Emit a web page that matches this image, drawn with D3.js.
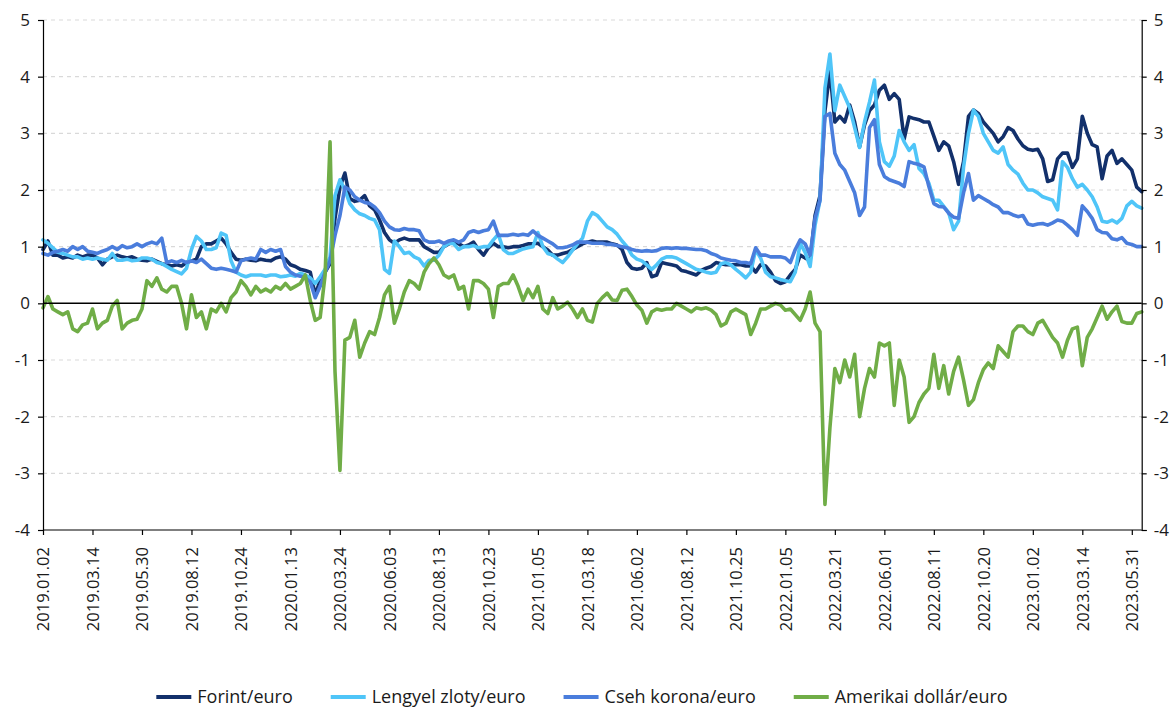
<!DOCTYPE html>
<html>
<head>
<meta charset="utf-8">
<script src="https://cdn.jsdelivr.net/npm/d3@7"></script>
<style>
  html, body { margin: 0; padding: 0; background: #ffffff; }
  svg { display: block; }
  text { font-family: "Open Sans", "Noto Sans", sans-serif; fill: #1a1a1a; }
</style>
</head>
<body>
<svg id="chart" width="1176" height="709"></svg>
<script>
// ---- DATA (one value every 5 trading days, 2019.01.02 - 2023.06) ----
const tickLabels = ["2019.01.02","2019.03.14","2019.05.30","2019.08.12","2019.10.24","2020.01.13","2020.03.24","2020.06.03","2020.08.13","2020.10.23","2021.01.05","2021.03.18","2021.06.02","2021.08.12","2021.10.25","2022.01.05","2022.03.21","2022.06.01","2022.08.11","2022.10.20","2023.01.02","2023.03.14","2023.05.31"];
const samplesPerLabel = 10;
const yTicks = [-4,-3,-2,-1,0,1,2,3,4,5];
const seriesNames = ["Forint/euro","Lengyel zloty/euro","Cseh korona/euro","Amerikai dollár/euro"];

const forint = [
 0.95,1.1,0.85,0.85,0.8,0.82,0.8,0.85,0.82,0.85,
 0.85,0.8,0.68,0.78,0.82,0.85,0.82,0.8,0.82,0.78,
 0.76,0.75,0.78,0.74,0.7,0.68,0.66,0.68,0.66,0.72,
 0.75,0.78,1.0,1.05,1.05,1.1,1.15,1.05,0.9,0.78,
 0.76,0.78,0.76,0.75,0.78,0.76,0.75,0.8,0.82,0.78,
 0.68,0.65,0.6,0.58,0.55,0.15,0.4,0.55,0.7,1.5,
 2.05,2.3,1.85,1.8,1.82,1.9,1.72,1.65,1.47,1.25,
 1.12,1.06,1.12,1.15,1.12,1.12,1.12,1.0,0.95,0.9,
 0.9,1.0,1.05,1.08,1.05,1.0,1.03,1.08,0.95,0.85,
 0.98,1.06,1.0,1.0,0.98,1.0,1.0,1.02,1.05,1.05,
 1.06,1.0,0.94,0.85,0.85,0.88,0.9,0.95,1.0,1.05,
 1.08,1.1,1.08,1.08,1.08,1.05,1.03,0.95,0.72,0.62,
 0.6,0.62,0.72,0.47,0.5,0.72,0.7,0.68,0.66,0.58,
 0.56,0.53,0.5,0.58,0.62,0.65,0.72,0.7,0.68,0.68,
 0.68,0.68,0.66,0.66,0.55,0.68,0.66,0.55,0.4,0.35,
 0.38,0.5,0.6,0.85,0.8,0.76,1.55,1.9,3.4,4.1,
 3.2,3.3,3.2,3.5,3.2,2.76,3.15,3.4,3.5,3.76,
 3.85,3.6,3.7,3.6,2.9,3.29,3.26,3.24,3.2,3.2,
 2.95,2.7,2.85,2.78,2.5,2.1,2.5,3.3,3.41,3.35,
 3.2,3.1,3.0,2.85,2.94,3.1,3.05,2.9,2.78,2.72,
 2.7,2.72,2.55,2.15,2.18,2.55,2.65,2.65,2.4,2.55,
 3.3,3.0,2.8,2.76,2.2,2.6,2.7,2.47,2.55,2.45,
 2.35,2.05,1.97
];
const zloty = [
 1.12,1.06,0.98,0.9,0.88,0.85,0.82,0.82,0.78,0.8,
 0.78,0.8,0.78,0.76,0.88,0.76,0.76,0.78,0.75,0.76,
 0.8,0.8,0.78,0.72,0.7,0.65,0.6,0.56,0.52,0.62,
 0.95,1.18,1.1,0.95,0.95,0.98,1.24,1.2,0.75,0.55,
 0.5,0.47,0.5,0.5,0.5,0.48,0.5,0.5,0.47,0.48,
 0.5,0.48,0.53,0.5,0.45,0.35,0.47,0.6,0.82,1.9,
 2.18,2.0,1.76,1.65,1.58,1.55,1.5,1.47,1.3,0.6,
 0.53,1.1,1.0,0.88,0.9,0.82,0.78,0.66,0.76,0.76,
 0.85,1.0,1.06,1.05,0.95,1.0,1.0,1.02,0.98,1.0,
 1.0,1.12,1.22,0.95,0.88,0.88,0.92,0.96,0.98,1.0,
 1.25,1.0,0.88,0.85,0.78,0.72,0.82,0.94,1.05,1.15,
 1.45,1.6,1.55,1.45,1.35,1.3,1.22,1.1,1.0,0.85,
 0.78,0.75,0.68,0.6,0.68,0.78,0.82,0.82,0.8,0.75,
 0.7,0.65,0.6,0.58,0.55,0.53,0.55,0.7,0.72,0.68,
 0.6,0.53,0.45,0.55,0.95,0.8,0.55,0.47,0.45,0.42,
 0.4,0.38,0.55,1.06,0.9,0.65,1.38,1.82,3.8,4.4,
 3.4,3.85,3.65,3.45,3.1,2.75,3.2,3.55,3.94,2.85,
 2.5,2.42,2.6,3.05,2.85,2.7,2.8,2.38,2.29,2.12,
 1.82,1.82,1.71,1.6,1.3,1.45,2.4,3.0,3.41,3.3,
 3.0,2.85,2.7,2.65,2.76,2.45,2.35,2.28,2.12,2.0,
 2.0,1.95,1.88,1.85,1.82,1.65,2.5,2.4,2.2,2.05,
 2.1,2.0,1.88,1.7,1.45,1.43,1.47,1.42,1.5,1.72,
 1.8,1.72,1.68
];
const korona = [
 0.88,0.85,0.9,0.92,0.95,0.92,1.0,0.95,1.0,0.92,
 0.9,0.88,0.92,0.95,1.0,0.95,1.02,0.98,1.0,1.05,
 1.0,1.05,1.08,1.05,1.15,0.72,0.75,0.72,0.76,0.72,
 0.75,0.72,0.78,0.7,0.62,0.6,0.62,0.6,0.58,0.55,
 0.75,0.78,0.8,0.78,0.95,0.9,0.95,0.92,0.95,0.65,
 0.55,0.5,0.48,0.45,0.38,0.1,0.3,0.55,0.75,1.2,
 1.55,2.05,2.0,1.88,1.82,1.78,1.76,1.7,1.6,1.45,
 1.35,1.3,1.29,1.32,1.3,1.3,1.28,1.12,1.08,1.08,
 1.1,1.06,1.1,1.12,1.08,1.12,1.25,1.28,1.25,1.28,
 1.3,1.45,1.2,1.2,1.2,1.22,1.2,1.22,1.2,1.28,
 1.2,1.15,1.1,1.05,0.98,0.98,1.0,1.03,1.08,1.08,
 1.08,1.06,1.06,1.06,1.04,1.04,1.02,1.0,0.98,0.95,
 0.93,0.92,0.93,0.92,0.93,0.97,0.98,0.97,0.98,0.97,
 0.97,0.96,0.95,0.95,0.93,0.88,0.85,0.8,0.78,0.76,
 0.75,0.72,0.72,0.7,0.98,0.85,0.85,0.82,0.82,0.82,
 0.8,0.72,0.95,1.12,1.05,0.85,1.5,1.82,3.3,3.35,
 2.65,2.45,2.35,2.15,1.95,1.55,1.7,3.1,3.24,2.45,
 2.24,2.18,2.15,2.12,2.06,2.5,2.47,2.45,2.41,2.06,
 1.76,1.71,1.7,1.59,1.52,1.5,1.95,2.29,1.82,1.9,
 1.85,1.8,1.74,1.7,1.6,1.6,1.56,1.53,1.55,1.4,
 1.38,1.4,1.41,1.38,1.42,1.47,1.45,1.38,1.3,1.2,
 1.72,1.62,1.5,1.3,1.25,1.24,1.14,1.12,1.16,1.06,
 1.04,1.0,1.0
];
const dollar = [
 -0.08,0.12,-0.1,-0.15,-0.2,-0.15,-0.45,-0.5,-0.38,-0.35,
 -0.1,-0.45,-0.35,-0.3,-0.05,0.05,-0.45,-0.35,-0.3,-0.28,
 -0.1,0.4,0.3,0.45,0.25,0.2,0.3,0.3,0.0,-0.45,
 0.15,-0.25,-0.15,-0.45,-0.1,-0.15,0.0,-0.15,0.1,0.2,
 0.4,0.3,0.15,0.3,0.2,0.25,0.2,0.3,0.25,0.35,
 0.25,0.3,0.35,0.5,0.05,-0.3,-0.25,0.5,2.85,-1.2,
 -2.95,-0.65,-0.6,-0.3,-0.95,-0.7,-0.5,-0.55,-0.25,0.15,
 0.3,-0.35,-0.1,0.2,0.4,0.35,0.25,0.55,0.7,0.8,
 0.68,0.5,0.45,0.5,0.25,0.3,-0.1,0.4,0.4,0.35,
 0.25,-0.25,0.3,0.35,0.35,0.5,0.3,0.05,0.25,0.1,
 0.3,-0.1,-0.18,0.1,-0.1,-0.05,0.02,-0.1,-0.25,-0.1,
 -0.3,-0.33,0.0,0.1,0.18,0.06,0.05,0.23,0.25,0.12,
 -0.03,-0.12,-0.35,-0.15,-0.1,-0.12,-0.1,-0.1,0.0,-0.05,
 -0.1,-0.15,-0.08,-0.1,-0.08,-0.12,-0.2,-0.4,-0.35,-0.15,
 -0.1,-0.15,-0.2,-0.55,-0.35,-0.1,-0.1,-0.05,0.0,-0.03,
 -0.12,-0.1,-0.2,-0.3,-0.1,0.2,-0.35,-0.5,-3.55,-2.2,
 -1.15,-1.4,-1.0,-1.3,-0.9,-2.0,-1.5,-1.15,-1.3,-0.7,
 -0.75,-0.7,-1.8,-1.0,-1.3,-2.1,-2.0,-1.75,-1.6,-1.5,
 -0.9,-1.5,-1.1,-1.6,-1.2,-0.95,-1.35,-1.8,-1.7,-1.4,
 -1.17,-1.05,-1.15,-0.75,-0.85,-0.95,-0.5,-0.4,-0.4,-0.5,
 -0.55,-0.35,-0.3,-0.45,-0.6,-0.7,-0.95,-0.65,-0.45,-0.42,
 -1.1,-0.6,-0.45,-0.25,-0.05,-0.28,-0.15,-0.05,-0.32,-0.35,
 -0.35,-0.18,-0.15
];
const seriesData = [forint, zloty, korona, dollar];
const colors = ["#12306b", "#4fc5f8", "#4a7ddc", "#70ad47"];

// ---- LAYOUT ----
const W = 1176, H = 709;
const plot = { left: 43, right: 1141.7, top: 20, bottom: 530 };
const svg = d3.select("#chart");

const x = d3.scaleLinear().domain([0, forint.length - 1]).range([plot.left, plot.right]);
const y = d3.scaleLinear().domain([-4, 5]).range([plot.bottom, plot.top]);

// gridlines
svg.append("g").selectAll("line")
  .data(yTicks.filter(v => v !== 0 && v !== -4))
  .join("line")
  .attr("x1", plot.left).attr("x2", plot.right)
  .attr("y1", d => y(d)).attr("y2", d => y(d))
  .attr("stroke", "#d9d9d9").attr("stroke-width", 1.2)
  .attr("stroke-dasharray", "4,4");

// series lines
const line = d3.line().x((d, i) => x(i)).y(d => y(d)).curve(d3.curveLinear);
svg.append("g").selectAll("path")
  .data(seriesData)
  .join("path")
  .attr("d", d => line(d))
  .attr("fill", "none")
  .attr("stroke", (d, i) => colors[i])
  .attr("stroke-width", 3.6)
  .attr("stroke-linejoin", "round")
  .attr("stroke-linecap", "round");

// zero line
svg.append("line")
  .attr("x1", plot.left).attr("x2", plot.right)
  .attr("y1", y(0)).attr("y2", y(0))
  .attr("stroke", "#000").attr("stroke-width", 1.5);

// left axis
const yAxisL = d3.axisLeft(y).tickValues(yTicks).tickSize(5).tickPadding(8).tickFormat(d3.format("d"));
const gL = svg.append("g").attr("transform", `translate(${plot.left},0)`).call(yAxisL);
// right axis
const yAxisR = d3.axisRight(y).tickValues(yTicks).tickSize(5).tickPadding(7).tickFormat(d3.format("d"));
const gR = svg.append("g").attr("transform", `translate(${plot.right},0)`).call(yAxisR);
[gL, gR].forEach(g => {
  g.select(".domain").attr("stroke", "#000").attr("stroke-width", 1.2);
  g.selectAll(".tick line").attr("stroke", "#000").attr("stroke-width", 1.2);
  g.selectAll(".tick text").style("font-size", "17px").attr("fill", "#1a1a1a");
});
gL.selectAll(".tick text").text(d => d < 0 ? "-" + Math.abs(d) : d);
gR.selectAll(".tick text").text(d => d < 0 ? "-" + Math.abs(d) : d);

// bottom axis (category ticks every 50 trading days)
const tickIdx = tickLabels.map((t, i) => i * samplesPerLabel);
const xAxis = d3.axisBottom(x).tickValues(tickIdx).tickSize(5).tickPadding(6)
  .tickFormat((d, i) => tickLabels[i]);
const gX = svg.append("g").attr("transform", `translate(0,${plot.bottom})`).call(xAxis);
gX.select(".domain").attr("stroke", "#000").attr("stroke-width", 1.2).attr("d", `M${plot.left},0H${plot.right}`);
gX.selectAll(".tick line").attr("stroke", "#000").attr("stroke-width", 1.2);
gX.selectAll(".tick text")
  .style("font-size", "16.5px")
  .attr("fill", "#1a1a1a")
  .attr("text-anchor", "end")
  .attr("dy", "0.35em")
  .attr("transform", "translate(0,17) rotate(-90)")
  .attr("x", 0).attr("y", 0);

// legend
const legend = svg.append("g");
const items = legend.selectAll("g").data(seriesNames).join("g");
items.append("line")
  .attr("x1", 0).attr("x2", 35).attr("y1", 0).attr("y2", 0)
  .attr("stroke", (d, i) => colors[i]).attr("stroke-width", 4);
items.append("text")
  .attr("x", 41).attr("y", 0).attr("dy", "0.35em")
  .style("font-size", "18px")
  .text(d => d);
let cursor = 0;
const gap = 38;
const offsets = [];
items.each(function() {
  offsets.push(cursor);
  const w = this.getBBox().width;
  cursor += w + gap;
});
const total = cursor - gap;
const startX = (W - total) / 2 - 6;
items.attr("transform", (d, i) => `translate(${startX + offsets[i]},697)`);
</script>
</body>
</html>
